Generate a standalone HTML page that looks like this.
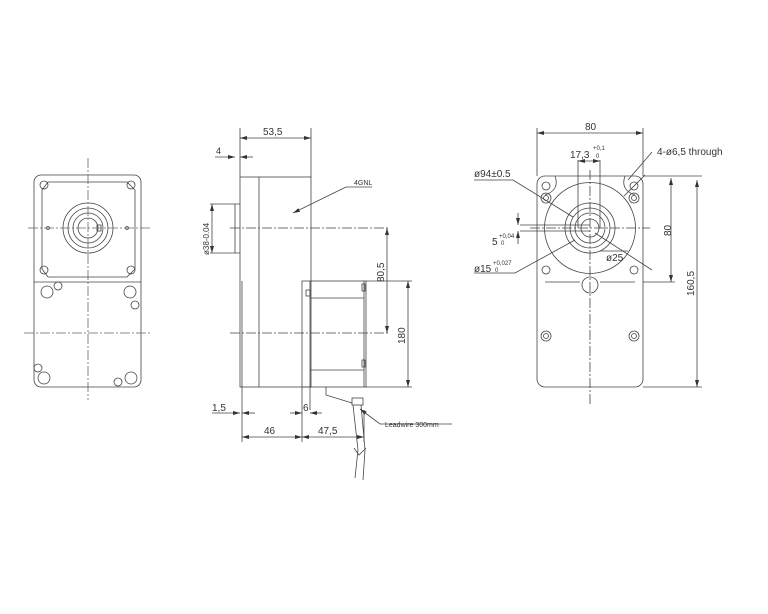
<!DOCTYPE html>
<html><head><meta charset="utf-8"><style>
html,body{margin:0;padding:0;background:#fff;width:768px;height:614px;overflow:hidden}
svg{display:block}
text{font-family:"Liberation Sans",sans-serif;fill:#333}
</style></head><body>
<svg width="768" height="614" viewBox="0 0 768 614" xmlns="http://www.w3.org/2000/svg">
<defs>
<marker id="a" markerWidth="8" markerHeight="6" refX="7" refY="3" orient="auto-start-reverse" markerUnits="userSpaceOnUse"><path d="M0,1 L7,3 L0,5z" fill="#333"/></marker>
</defs>
<g fill="none" stroke="#444" stroke-width="0.8">
<!-- LEFT VIEW -->
<rect x="34" y="175" width="107" height="212" rx="7"/>
<line x1="34" y1="282" x2="141" y2="282"/>
<path d="M48,182 H127 L135,190 V269 L127,277 H48 L42,269 V190 Z"/>
<circle cx="88" cy="228" r="25"/><circle cx="88" cy="228" r="20"/><circle cx="88" cy="228" r="15"/><circle cx="88" cy="228" r="10"/>
<rect x="97" y="225" width="4" height="6"/>
<circle cx="44" cy="185" r="4"/><circle cx="131" cy="185" r="4"/><circle cx="44" cy="270" r="4"/><circle cx="131" cy="270" r="4"/>
<circle cx="47" cy="292" r="6"/><circle cx="130" cy="292" r="6"/><circle cx="44" cy="378" r="6"/><circle cx="131" cy="378" r="6"/>
<circle cx="58" cy="286" r="4"/><circle cx="135" cy="305" r="4"/><circle cx="38" cy="368" r="4"/><circle cx="118" cy="382" r="4"/>
<circle cx="48" cy="228" r="1.5"/><circle cx="127" cy="228" r="1.5"/>
<g stroke-dasharray="10,2,2,2" stroke="#666"><line x1="88" y1="158" x2="88" y2="400"/><line x1="28" y1="228" x2="150" y2="228"/><line x1="24" y1="333" x2="150" y2="333"/></g>
<!-- MIDDLE VIEW -->
<rect x="240" y="177" width="71" height="210"/>
<line x1="259" y1="177" x2="259" y2="387"/>
<line x1="210" y1="204" x2="240" y2="204"/><line x1="210" y1="253" x2="240" y2="253"/><line x1="235" y1="204" x2="235" y2="253"/>
<line x1="242" y1="281" x2="242" y2="400"/>
<rect x="302" y="281" width="64" height="106"/>
<line x1="310" y1="281" x2="310" y2="410"/>
<line x1="310" y1="298" x2="364" y2="298"/><line x1="310" y1="370" x2="364" y2="370"/>
<line x1="364" y1="281" x2="364" y2="387"/>
<rect x="306" y="290" width="4" height="6"/><rect x="362" y="284" width="3" height="7"/><rect x="362" y="360" width="3" height="7"/>
<path d="M326,387 V395 L352,403"/><rect x="352" y="398" width="11" height="7"/>
<path d="M353,405 L358,450 L355,478 M361,405 L365,450 L363,480 M354,448 L359,455 L366,448"/>
<line x1="240" y1="128" x2="240" y2="177"/><line x1="311" y1="128" x2="311" y2="177"/>
<line x1="240" y1="138" x2="311" y2="138" marker-start="url(#a)" marker-end="url(#a)"/>
<line x1="215" y1="157" x2="235" y2="157" marker-end="url(#a)"/><line x1="253" y1="157" x2="240" y2="157" marker-end="url(#a)"/>
<line x1="212" y1="204" x2="212" y2="253" marker-start="url(#a)" marker-end="url(#a)"/>
<line x1="230" y1="228" x2="390" y2="228" stroke-dasharray="10,2,2,2"/><line x1="230" y1="333" x2="390" y2="333" stroke-dasharray="10,2,2,2"/>
<line x1="387" y1="228" x2="387" y2="333" marker-start="url(#a)" marker-end="url(#a)"/>
<line x1="366" y1="281" x2="412" y2="281"/><line x1="366" y1="387" x2="412" y2="387"/>
<line x1="408" y1="281" x2="408" y2="387" marker-start="url(#a)" marker-end="url(#a)"/>
<line x1="242" y1="400" x2="242" y2="442"/><line x1="302" y1="387" x2="302" y2="442"/><line x1="364" y1="410" x2="364" y2="442"/>
<line x1="212" y1="413" x2="240" y2="413" marker-end="url(#a)"/><line x1="255" y1="413" x2="242" y2="413" marker-end="url(#a)"/>
<line x1="290" y1="413" x2="302" y2="413" marker-end="url(#a)"/><line x1="322" y1="413" x2="310" y2="413" marker-end="url(#a)"/>
<line x1="242" y1="437" x2="302" y2="437" marker-start="url(#a)" marker-end="url(#a)"/>
<line x1="302" y1="437" x2="364" y2="437" marker-start="url(#a)" marker-end="url(#a)"/>
<line x1="346" y1="187" x2="293" y2="213" marker-end="url(#a)"/><line x1="346" y1="187" x2="372" y2="187"/>
<path d="M360,409 L380,424 H452" marker-start="url(#a)"/>
<!-- RIGHT VIEW -->
<rect x="537" y="176" width="106" height="211" rx="8"/>
<path d="M545,282 H580 M600,282 H635"/>
<path d="M555,176 Q560,190 545,195 M625,176 Q620,190 635,195"/>
<circle cx="590" cy="228" r="45.5"/><circle cx="590" cy="228" r="25"/><circle cx="590" cy="228" r="20"/><circle cx="590" cy="228" r="15"/><circle cx="590" cy="228" r="9"/>
<circle cx="590" cy="285" r="8"/>
<circle cx="546" cy="186" r="4"/><circle cx="634" cy="186" r="4"/><circle cx="546" cy="270" r="4"/><circle cx="634" cy="270" r="4"/>
<circle cx="546" cy="198" r="5"/><circle cx="634" cy="198" r="5"/><circle cx="546" cy="336" r="5"/><circle cx="634" cy="336" r="5"/>
<circle cx="546" cy="198" r="2.5"/><circle cx="634" cy="198" r="2.5"/><circle cx="546" cy="336" r="2.5"/><circle cx="634" cy="336" r="2.5"/>
<line x1="590" y1="170" x2="590" y2="405" stroke-dasharray="10,2,2,2"/><line x1="530" y1="228" x2="650" y2="228" stroke-dasharray="10,2,2,2"/>
<line x1="537" y1="128" x2="537" y2="176"/><line x1="643" y1="128" x2="643" y2="176"/>
<line x1="537" y1="133" x2="643" y2="133" marker-start="url(#a)" marker-end="url(#a)"/>
<line x1="578" y1="160" x2="578" y2="228"/><line x1="600" y1="160" x2="600" y2="228"/>
<line x1="578" y1="161" x2="600" y2="161" marker-start="url(#a)" marker-end="url(#a)"/>
<line x1="643" y1="176" x2="702" y2="176"/><line x1="643" y1="282" x2="675" y2="282"/><line x1="643" y1="387" x2="702" y2="387"/>
<line x1="671" y1="178" x2="671" y2="282" marker-start="url(#a)" marker-end="url(#a)"/>
<line x1="697" y1="180" x2="697" y2="387" marker-start="url(#a)" marker-end="url(#a)"/>
<path d="M474,180 H513 L573,217"/>
<path d="M474,273 H515 L575,240"/>
<path d="M652,152 L628,180 M624,196 L645,175"/>
<line x1="595" y1="233" x2="652" y2="270"/><line x1="600" y1="251" x2="628" y2="251"/>
<line x1="520" y1="225" x2="590" y2="225"/><line x1="520" y1="231" x2="590" y2="231"/>
<line x1="518" y1="213" x2="518" y2="225" marker-end="url(#a)"/><line x1="518" y1="244" x2="518" y2="231" marker-end="url(#a)"/>
</g>
<g font-size="10">
<text x="263" y="135">53,5</text>
<text x="216" y="154" font-size="9">4</text>
<text x="354" y="185" font-size="7">4GNL</text>
<text transform="translate(209,255) rotate(-90)" font-size="8">ø38-0.04</text>
<text transform="translate(384,282) rotate(-90)">80,5</text>
<text transform="translate(405,344) rotate(-90)">180</text>
<text x="212" y="411">1,5</text>
<text x="303" y="411">6</text>
<text x="264" y="434">46</text>
<text x="318" y="434">47,5</text>
<text x="385" y="427" font-size="7">Leadwire 300mm</text>
<text x="585" y="130">80</text>
<text x="570" y="158">17,3</text><text x="593" y="150" font-size="6">+0,1</text><text x="596" y="158" font-size="6">0</text>
<text x="657" y="155">4-ø6,5 through</text>
<text x="474" y="177">ø94±0.5</text>
<text x="492" y="245">5</text><text x="499" y="238" font-size="6">+0,04</text><text x="501" y="245" font-size="6">0</text>
<text x="474" y="272">ø15</text><text x="493" y="265" font-size="6">+0,027</text><text x="495" y="272" font-size="6">0</text>
<text x="606" y="261">ø25</text>
<text transform="translate(671,236) rotate(-90)">80</text>
<text transform="translate(694,296) rotate(-90)">160,5</text>
</g>
</svg>
</body></html>
